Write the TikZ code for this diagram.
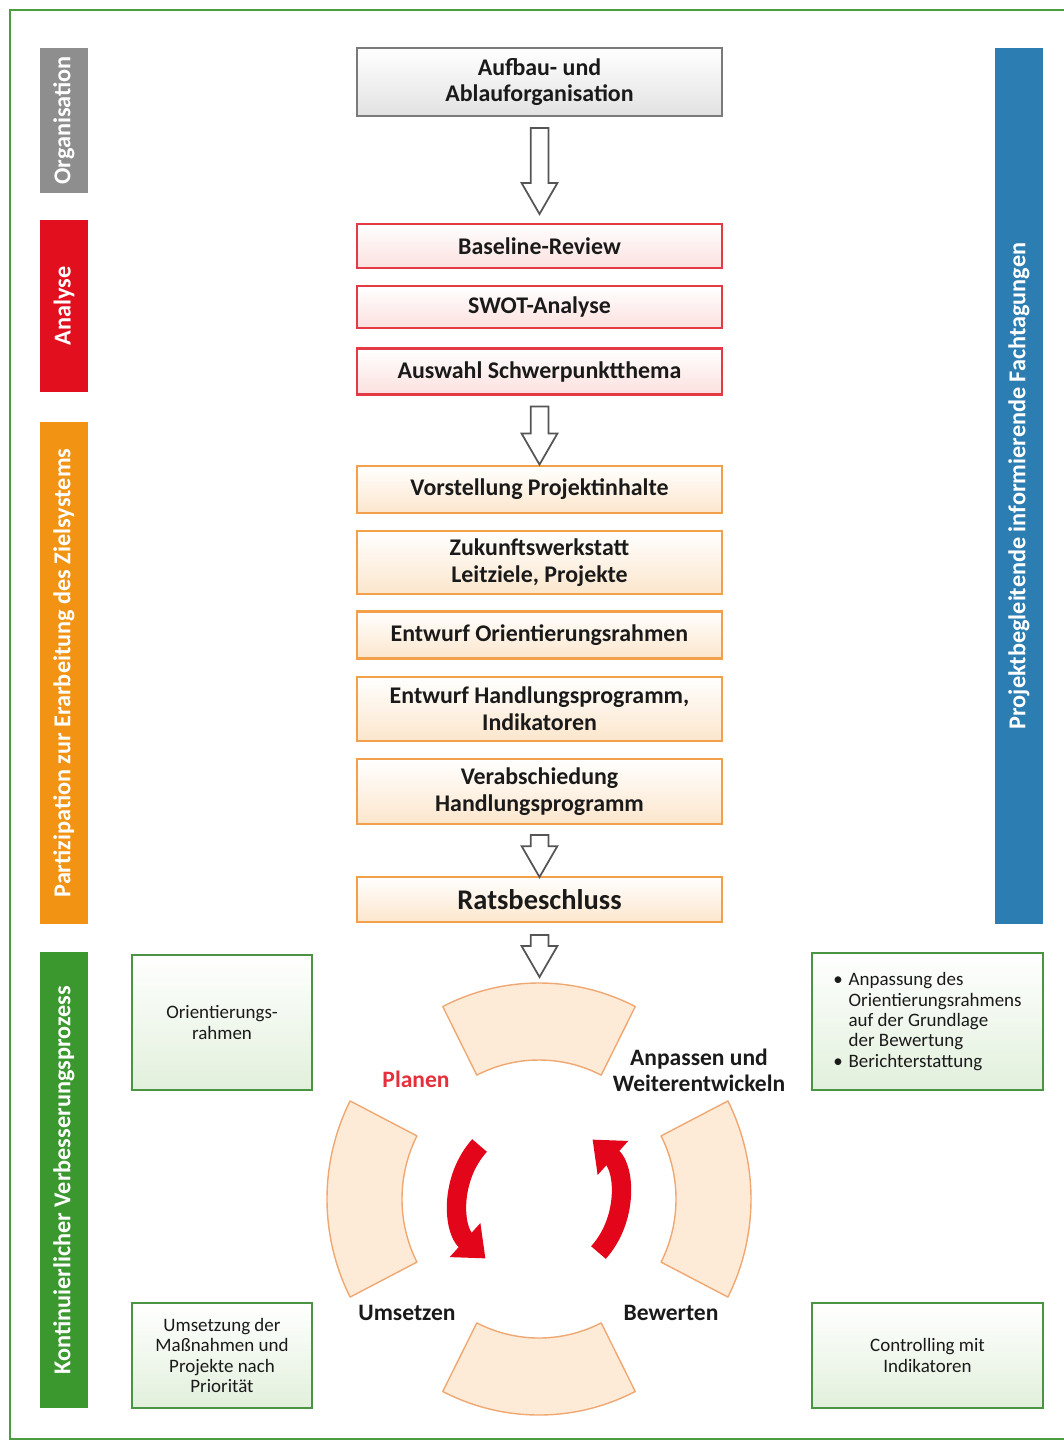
\documentclass[tikz,border=0pt]{standalone}
\usepackage{fontspec}
\setmainfont{Carlito}
\usepackage{xcolor}
\usepackage{tikz}
\usetikzlibrary{arrows.meta,positioning,calc,shapes.arrows}
\definecolor{tinte}{HTML}{1A1A1A}
\definecolor{rahmen}{HTML}{4A9E3F}
\definecolor{balkenGrau}{HTML}{8E8E8E}
\definecolor{balkenRot}{HTML}{E2101E}
\definecolor{balkenOrange}{HTML}{F39314}
\definecolor{balkenGruen}{HTML}{3A982E}
\definecolor{balkenBlau}{HTML}{2C7DB1}
\definecolor{grauRand}{HTML}{7A7A7A}
\definecolor{grauFuell}{HTML}{E2E2E2}
\definecolor{rotRand}{HTML}{E33A44}
\definecolor{rotFuell}{HTML}{FBE0DE}
\definecolor{orangeRand}{HTML}{F2A04A}
\definecolor{orangeFuell}{HTML}{FCE6CC}
\definecolor{gruenRand}{HTML}{4B9443}
\definecolor{gruenFuell}{HTML}{E2F0DC}
\definecolor{segRand}{HTML}{F0A873}
\definecolor{segFuell}{HTML}{FDEBD8}
\definecolor{pfeilRand}{HTML}{555555}
\definecolor{kreisRot}{HTML}{E3061A}
\definecolor{planRot}{HTML}{E3303A}

\begin{document}
\begin{tikzpicture}[x=0.02cm,y=0.02cm,
    balken/.style={rotate=90,minimum height=0.96cm,inner sep=0pt,
                   text=white,font=\bfseries\fontsize{13.8}{15}\selectfont},
    kasten/.style={line width=1.3pt,minimum width=7.3cm,align=center,inner sep=2pt,
                   font=\bfseries\fontsize{13.6}{15}\selectfont\color{tinte}},
    grauk/.style={kasten,draw=grauRand,top color=white,bottom color=grauFuell},
    rotk/.style={kasten,draw=rotRand,top color=white,bottom color=rotFuell},
    orangek/.style={kasten,draw=orangeRand,top color=white,bottom color=orangeFuell},
    seite/.style={draw=gruenRand,line width=1.3pt,top color=white,bottom color=gruenFuell,
                  align=center,font=\fontsize{10.8}{11.6}\selectfont\color{tinte}},
    pfeil/.style={single arrow,draw=pfeilRand,fill=white,line width=1pt,rotate=-90,
                  inner xsep=0pt,inner ysep=0.16cm,single arrow head extend=0.18cm,
                  single arrow tip angle=60,anchor=tail},
    segment/.style={draw=segRand,fill=segFuell,line width=0.8pt,line join=round},
    phase/.style={align=center,font=\bfseries\fontsize{13.4}{15}\selectfont\color{tinte}},
    kreis/.style={draw=kreisRot,line width=11pt,-{Triangle[length=0.55cm,width=0.88cm]}},
    node distance=0.32cm]
  \useasboundingbox (0,0) rectangle (1064,-1444);
  \draw[rahmen,line width=1.2pt] (10,-10) rectangle (1080,-1439);

  % seitliche Balken
  \node[balken,fill=balkenGrau,minimum width=2.9cm] (bOrg) at (64,-120.5) {Organisation};
  \node[balken,fill=balkenRot,minimum width=3.44cm] (bAna) at (64,-306) {Analyse};
  \node[balken,fill=balkenOrange,minimum width=10.04cm] (bPart) at (64,-673)
    {Partizipation zur Erarbeitung des Zielsystems};
  \node[balken,fill=balkenGruen,minimum width=9.12cm] (bKvp) at (64,-1180)
    {Kontinuierlicher Verbesserungsprozess};
  \node[balken,fill=balkenBlau,minimum width=17.52cm] (bFach) at (1019,-486)
    {Projektbegleitende informierende Fachtagungen};

  % mittlere Spalte
  \node[grauk,minimum height=1.36cm] (aufbau) at (539.5,-82) {Aufbau- und\\Ablauforganisation};
  \node[rotk,minimum height=0.88cm] (baseline) at (539.5,-246) {Baseline-Review};
  \node[rotk,minimum height=0.84cm,below=of baseline] (swot) {SWOT-Analyse};
  \node[rotk,minimum height=0.92cm,below=0.36cm of swot] (auswahl) {Auswahl Schwerpunktthema};
  \node[orangek,minimum height=0.94cm] (vorstellung) at (539.5,-489.5) {Vorstellung Projektinhalte};
  \node[orangek,minimum height=1.26cm,below=of vorstellung] (zukunft)
    {Zukunftswerkstatt\\Leitziele, Projekte};
  \node[orangek,minimum height=0.94cm,below=0.3cm of zukunft] (entwurfO) {Entwurf Orientierungsrahmen};
  \node[orangek,minimum height=1.28cm,below=of entwurfO] (entwurfH)
    {Entwurf Handlungsprogramm,\\Indikatoren};
  \node[orangek,minimum height=1.3cm,below=of entwurfH] (verab)
    {Verabschiedung\\Handlungsprogramm};
  \node[orangek,minimum height=0.9cm] (rats) at (539.5,-899.5)
    {\fontsize{16.2}{18}\selectfont Ratsbeschluss};

  \node[pfeil,minimum height=1.72cm] (p1) at ($(aufbau.south)+(0,-10)$) {};
  \node[pfeil,minimum height=1.16cm] (p2) at ($(auswahl.south)+(0,-10)$) {};
  \node[pfeil,minimum height=0.84cm] (p3) at ($(verab.south)+(0,-9)$) {};
  \node[pfeil,minimum height=0.84cm] (p4) at ($(rats.south)+(0,-11)$) {};

  % Kreislauf
  \coordinate (zm) at (539,-1199);
  \foreach \w in {0,90,180,270}
    \draw[segment] ($(zm)+(\w-27:212 and 216)$)
        arc[start angle=\w-27,end angle=\w+27,x radius=212,y radius=216]
      -- ($(zm)+(\w+27:137 and 139)$)
        arc[start angle=\w+27,end angle=\w-27,x radius=137,y radius=139] -- cycle;
  \draw[kreis] ($(zm)+(138:80)$) arc[start angle=138,end angle=228,radius=80];
  \draw[kreis] ($(zm)+(-42:80)$) arc[start angle=-42,end angle=48,radius=80];

  \node[phase,text=planRot] (planen) at (416,-1079) {Planen};
  \node[phase] (anpassen) at (699,-1070) {Anpassen und\\Weiterentwickeln};
  \node[phase] (umsetzen) at (407,-1313) {Umsetzen};
  \node[phase] (bewerten) at (671,-1313) {Bewerten};

  % Kaesten am Rand
  \node[seite,minimum width=3.6cm,minimum height=2.7cm] (orient) at (222,-1022.5)
    {Orientierungs-\\rahmen};
  \node[seite,minimum width=4.62cm,minimum height=2.74cm,align=left] (anpass) at (927.5,-1021.5)
    {\makebox[0.8em][l]{\textbullet}Anpassung des\\
     \hspace*{0.8em}Orientierungsrahmens\\
     \hspace*{0.8em}auf der Grundlage\\
     \hspace*{0.8em}der Bewertung\\
     \makebox[0.8em][l]{\textbullet}Berichterstattung};
  \node[seite,minimum width=3.6cm,minimum height=2.1cm] (umsetz) at (222,-1355.5)
    {Umsetzung der\\Maßnahmen und\\Projekte nach\\Priorität};
  \node[seite,minimum width=4.62cm,minimum height=2.1cm] (control) at (927.5,-1355.5)
    {Controlling mit\\Indikatoren};
\end{tikzpicture}
\end{document}
